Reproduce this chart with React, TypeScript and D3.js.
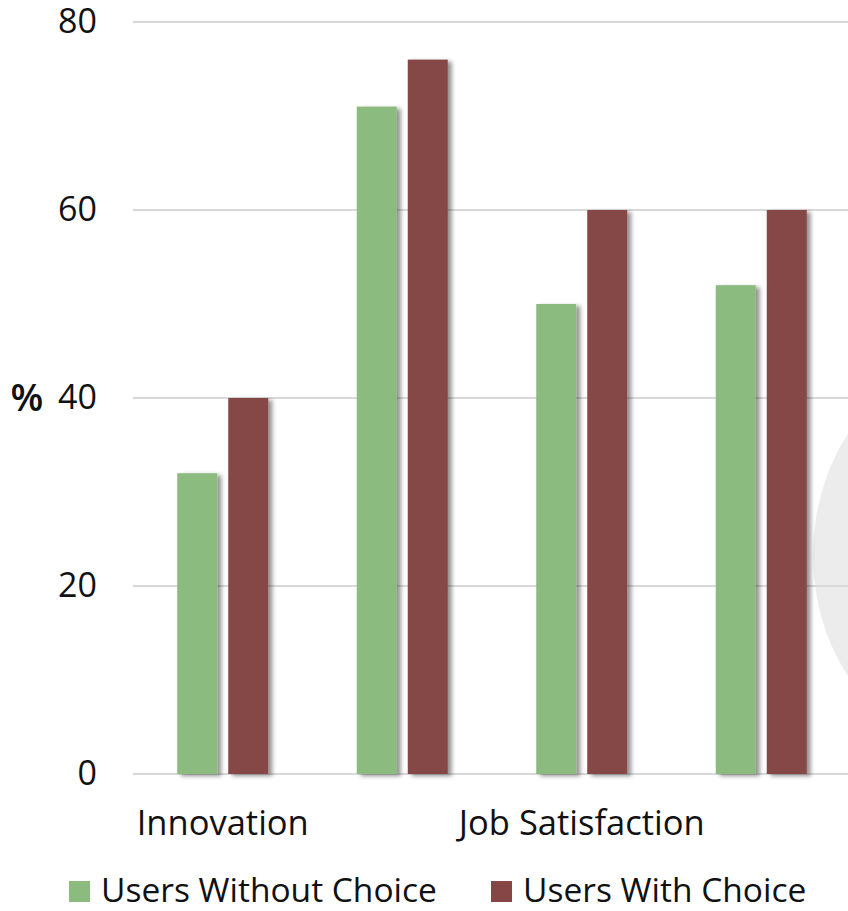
import React from "react";
import * as d3 from "d3";

const categories = ["Innovation", "Category 2", "Job Satisfaction", "Category 4"];
const shownLabels = ["Innovation", "", "Job Satisfaction", ""];
const seriesNames = ["Users Without Choice", "Users With Choice"];
const withoutChoice = [32, 71, 50, 52];
const withChoice = [40, 76, 60, 60];
const yTicks = [0, 20, 40, 60, 80];
const colors = ["#8bbb7f", "#864646"];

const W = 848;
const H = 911;
const FONT = "'Open Sans', sans-serif";

export default function App() {
  const x0 = d3.scaleBand<string>().domain(categories).range([133, 851]).paddingInner(0).paddingOuter(0);
  const groupW = 91;
  const x1 = d3.scaleBand<string>().domain(seriesNames).range([0, groupW]).paddingInner(11 / 51).paddingOuter(0);
  const y = d3.scaleLinear().domain([0, 80]).range([774, 22]);
  const series = [withoutChoice, withChoice];

  return (
    <div style={{ position: "absolute", left: 0, top: 0, width: W, height: H, overflow: "hidden", background: "#fff" }}>
      <svg width={W} height={H} style={{ display: "block" }}>
        <defs>
          <filter id="shadow" x="-20%" y="-5%" width="150%" height="115%">
            <feDropShadow dx="4" dy="2" stdDeviation="2.2" floodColor="#000" floodOpacity="0.42" />
          </filter>
        </defs>
        <ellipse cx={994} cy={555} rx={181} ry={205} fill="#ececec" />
        {yTicks.map((t) => (
          <g key={t}>
            <line x1={133} x2={W} y1={y(t)} y2={y(t)} stroke="#d9d9d9" strokeWidth={2} />
            <text x={97} y={y(t) + 11} textAnchor="end" fontFamily={FONT} fontSize={34} fill="#111">
              {t}
            </text>
          </g>
        ))}
        <text x={27} y={411} textAnchor="middle" fontFamily={FONT} fontSize={38} fontWeight={600} fill="#111">
          %
        </text>
        {categories.map((c, i) => {
          const gx = (x0(c) as number) + x0.bandwidth() / 2 - groupW / 2;
          return (
            <g key={c}>
              {seriesNames.map((s, j) => (
                <rect
                  key={s}
                  x={gx + (x1(s) as number)}
                  y={y(series[j][i])}
                  width={x1.bandwidth()}
                  height={y(0) - y(series[j][i])}
                  fill={colors[j]}
                  filter="url(#shadow)"
                />
              ))}
            </g>
          );
        })}
        {categories.map((c, i) =>
          shownLabels[i] ? (
            <text
              key={c}
              x={(x0(c) as number) + x0.bandwidth() / 2}
              y={835}
              textAnchor="middle"
              fontFamily={FONT}
              fontSize={34.5}
              fill="#111"
            >
              {shownLabels[i]}
            </text>
          ) : null
        )}
        {seriesNames.map((s, j) => {
          const lx = [69, 491][j];
          return (
            <g key={s}>
              <rect x={lx} y={881} width={21} height={21} fill={colors[j]} />
              <text x={lx + 32} y={902} fontFamily={FONT} fontSize={33.5} fill="#111">
                {s}
              </text>
            </g>
          );
        })}
      </svg>
    </div>
  );
}
